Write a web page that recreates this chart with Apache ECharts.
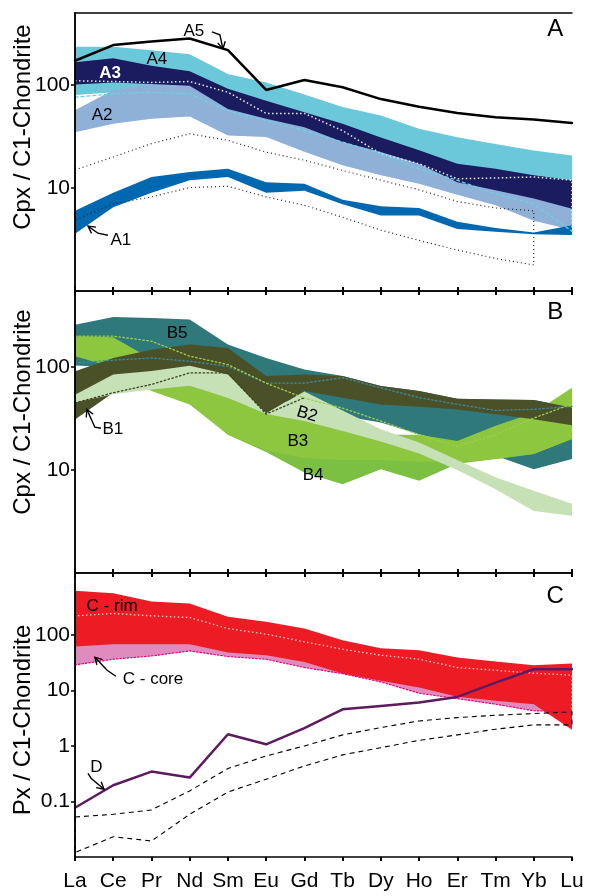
<!DOCTYPE html>
<html><head><meta charset="utf-8">
<script src="https://cdn.jsdelivr.net/npm/echarts@6/dist/echarts.min.js"></script>
<style>html,body{margin:0;padding:0;background:#fff}#c{width:589px;height:896px}</style>
</head><body><div id="c"></div>
<script>
const cats = ['La','Ce','Pr','Nd','Sm','Eu','Gd','Tb','Dy','Ho','Er','Tm','Yb','Lu'];

// ---------- Panel A ----------
const a5Line  = [172, 244, 265, 283, 218, 89.5, 112, 95, 73, 61.6, 53.6, 48.7, 46.2, 42.8];
const a4Hi    = [235, 235, 218, 199, 128, 106, 81, 61, 50.5, 37.5, 31.1, 26.8, 23.1, 20.7];
const a4Lo    = [80, 85, 90, 92, 70, 55, 45, 34, 26, 20, 15, 13, 11.5, 10];
const a2Hi    = [57, 89.5, 102, 110, 75, 60, 48, 35, 27, 20, 14, 12, 10, 8];
const a2Lo    = [34.8, 42, 47, 49.4, 32.4, 31.2, 22.5, 16.6, 13.3, 11, 8.6, 6.8, 4.8, 3.9];
const a3Hi    = [166, 182, 154, 136, 92, 70.5, 54.4, 42, 31, 23.2, 17.2, 15.4, 13.3, 11.9];
const a3Lo    = [101, 106, 102, 98.5, 58.6, 46.9, 38.9, 27.9, 22.3, 17.2, 11.4, 9.5, 7.9, 6.3];
const a1Hi    = [6.0, 9.0, 12.8, 14.3, 15.4, 11.4, 11.0, 7.7, 6.65, 6.4, 4.7, 4.1, 3.7, 4.35];
const a1Lo    = [3.6, 6.5, 9.0, 11.9, 12.8, 9.0, 9.4, 6.95, 5.4, 5.4, 4.0, 3.75, 3.55, 3.5];
const a1EnvHi = [15, 20, 27, 33.6, 29, 22.3, 18.6, 14.8, 11.9, 9.6, 7.4, 6.4, 6.0, null];
const a1EnvLo = [4.9, 7.0, 8.2, 10.1, 10.4, 8.2, 6.8, 5.2, 3.9, 3.1, 2.5, 2.07, 1.79, null];
const a3Mean  = [110, 108, 106, 108, 85, 53, 53, 36, 21.5, 17.2, 12.3, 12.5, 12.8, 11.9];
const a2Mean  = [76, 82, 85, 82, 56, 45, 36, 27.9, 21.5, 15.4, 11.9, 8.8, 7.0, 3.8];

// ---------- Panel B ----------
const b5Hi = [259, 308, 300, 290, 166, 123, 95, 82, 65.5, 58.6, 49.3, 48.6, 48, 40.5];
const b5Lo = [104, 100, 100, 95, 80, 60, 37, 33.6, 29, 22.3, 17.8, 13.8, 10.2, 12.8];
const b4Hi = [150, 150, 90, 60, 40, 30, 25, 20, 18, 17, 16, 20, 28, 50];
const b4Lo = [135, 110, 65, 47, 22, 15, 9.5, 7.3, 10.2, 7.9, 11.5, 12.8, 14.3, 20];
const b3Hi = [200, 195, 120, 68, 50.5, 37.5, 31, 27, 22, 22, 19.2, 26.9, 36, 63];
const b3Lo = [128, 100, 58.6, 43.5, 22, 15.5, 13, 12.5, 12.5, 12, 11.9, 12.8, 14.3, 20];
const b1Hi = [91.5, 123, 148, 166, 154, 82, 85, 82, 65.5, 58.6, 49.3, 48.6, 48, 40.5];
const b1Lo = [31, 56.5, 70, 95, 80, 35.5, 58.6, 50.6, 43.5, 41.3, 38.9, 34.8, 31.2, 27.2];
const b2Hi = [54, 85, 92, 103, 85, 35.5, 58, 38, 25, 18.5, 12.5, 8.5, 6.3, 4.7];
const b2Lo = [45.5, 54.5, 60.8, 66, 50.5, 35, 30, 24, 19, 14.5, 10, 6.5, 4.0, 3.6];
const b5Mean = [110, 117, 123, 114, 102, 70, 70, 79, 63, 50.6, 43.6, 38, 39, 41.5];
const b1Mean = [45, 56.5, 68, 88, 88, 35, 50.5, null, null, null, null, null, null, null];
const b3Mean = [200, 200, 179, 128, 106, 70, 50, 40, 30, 22, 17, 22, 32, 44];

// ---------- Panel C ----------
const cRimHi   = [621, 563, 399, 367, 211, 172, 130, 80, 57.5, 53, 39, 33, 28.4, 30.5];
const cRimLo   = [61.6, 68, 68, 68, 48, 43, 32.6, 20.1, 14.9, 11.3, 7.65, 6.5, 5.65, 1.95];
const cCoreHi  = [150, 150, 120, 120, 90, 80, 60, 40, 30, 25, 18, 15, 12, 10];
const cCoreLo  = [28.8, 36.4, 41.7, 51.4, 40.7, 36.4, 25.8, 20, 14.2, 8.9, 7.1, 5.65, 4.3, 4.1];
const cRimMean = [220, 243, 220, 205, 130, 103, 75, 55, 43, 36.5, 25.8, 23, 20.4, 18.8];
const dLine    = [0.077, 0.196, 0.345, 0.269, 1.62, 1.07, 2.1, 4.57, 5.26, 6.04, 7.64, 13.8, 24, 24];
const dEnvHi   = [0.0526, 0.0587, 0.0703, 0.155, 0.391, 0.66, 1.0, 1.58, 2.14, 2.82, 3.24, 3.57, 3.83, 4.1];
const dEnvLo   = [0.012, 0.0232, 0.0194, 0.0587, 0.148, 0.251, 0.436, 0.69, 0.93, 1.26, 1.58, 2.0, 2.39, 2.39];

// tick labels
const ticksAB = [10, 100];
const ticksC  = [0.1, 1, 10, 100];

// annotations [text, xIndex, value]
const labA = [['A5', 3.11, 335], ['A4', 2.14, 176], ['A3', 0.92, 131], ['A2', 0.71, 50.5], ['A1', 1.2, 3.1]];
const labB = [['B5', 2.67, 212], ['B2', 6.07, 34.8], ['B3', 5.83, 19.1], ['B4', 6.23, 8.95], ['B1', 0.99, 24.9]];
const labC = [['C - rim', 0.97, 329], ['C - core', 2.04, 15.9], ['D', 0.56, 0.405]];
const arrowA5 = [[3.58, 328], [3.79, 307], [3.87, 224]];
const arrowA1 = [[0.86, 3.48], [0.60, 3.64], [0.34, 4.26]];
const arrowB1 = [[0.68, 25.5], [0.52, 26.1], [0.31, 38.9]];
const arrowCore = [[1.07, 18.0], [0.84, 23.1], [0.52, 39.6]];
const arrowD = [[0.34, 0.322], [0.42, 0.262], [0.76, 0.166]];

const FONT = '"Liberation Sans", Arial, Helvetica, sans-serif';
const AX = {A: {x: 0, y: 0}, B: {x: 3, y: 2}, C: {x: 5, y: 4}};
const pts = arr => arr.map((v, i) => [i, v]).filter(p => p[1] != null);

function band(hi, lo, color, ax) {
  return {
    type: 'custom', xAxisIndex: ax.x, yAxisIndex: ax.y, silent: true, animation: false,
    data: [[0, hi[0]]],
    renderItem(params, api) {
      const top = pts(hi).map(p => api.coord(p));
      const bot = pts(lo).map(p => api.coord(p)).reverse();
      return {type: 'polygon', shape: {points: top.concat(bot)}, style: {fill: color}};
    }
  };
}
function path(pointFn, closed, stroke, width, dash, ax) {
  return {
    type: 'custom', xAxisIndex: ax.x, yAxisIndex: ax.y, silent: true, animation: false,
    data: [[0, 1]],
    renderItem(params, api) {
      const p = pointFn().map(q => api.coord(q));
      return {type: closed ? 'polygon' : 'polyline', shape: {points: p},
        style: {fill: 'none', stroke, lineWidth: width, lineDash: dash}};
    }
  };
}
function line(arr, color, width, type, ax) {
  return {type: 'line', xAxisIndex: ax.x, yAxisIndex: ax.y, data: pts(arr), symbol: 'none',
    silent: true, animation: false, lineStyle: {color, width, type, cap: 'round'}};
}
const envelope = (hi, lo) => () => pts(hi).concat(pts(lo).reverse());

const grids = [
  {left: 75, right: 17, top: 13, height: 278, outerBoundsMode: 'none', containLabel: false},
  {left: 75, right: 17, top: 291, height: 282, outerBoundsMode: 'none', containLabel: false},
  {left: 75, right: 17, top: 573, height: 284, outerBoundsMode: 'none', containLabel: false}
];
function xAx(grid, pos, ticks, labels) {
  return {type: 'value', gridIndex: grid, position: pos, min: 0, max: 13, interval: 1, z: 10,
    splitLine: {show: false},
    axisLine: {show: true, onZero: false, lineStyle: {color: '#000', width: 1.5}},
    axisTick: {show: ticks, length: 4, lineStyle: {color: '#000', width: 2}},
    axisLabel: {show: labels, formatter: v => cats[v] || '', color: '#000', fontSize: 21, fontFamily: FONT, margin: 14}};
}
function yAx(grid, pos, min, max, ticks, name, pad) {
  const left = pos === 'left';
  return {type: 'log', logBase: 10, gridIndex: grid, position: pos, min, max, z: 10,
    splitLine: {show: false},
    axisLine: {show: true, lineStyle: {color: '#000', width: 1.5}},
    axisTick: {show: left, length: 4, customValues: ticks, lineStyle: {color: '#000', width: 1.5}},
    axisLabel: {show: left, customValues: ticks, formatter: v => ticks.some(t => Math.abs(t - v) < 1e-9 * Math.max(1, t)) ? String(v) : '',
      color: '#000', fontSize: 21, fontFamily: FONT, margin: 5},
    name: left ? name : '', nameLocation: 'middle', nameGap: 40, nameMoveOverlap: false,
    nameTextStyle: {color: '#000', fontSize: 24, fontFamily: FONT, padding: pad}};
}

const chart = echarts.init(document.getElementById('c'));
chart.setOption({
  animation: false,
  grid: grids,
  xAxis: [xAx(0, 'bottom', true, false), xAx(0, 'top', false, false),
          xAx(1, 'top', true, false), xAx(1, 'bottom', true, false),
          xAx(2, 'top', true, false), xAx(2, 'bottom', true, true)],
  yAxis: [yAx(0, 'left', 1, 500, ticksAB, 'Cpx / C1-Chondrite', [0, 0, 0, 50]), yAx(0, 'right', 1, 500, ticksAB),
          yAx(1, 'left', 1, 550, ticksAB, 'Cpx / C1-Chondrite', [0, 0, 0, 40]), yAx(1, 'right', 1, 550, ticksAB),
          yAx(2, 'left', 0.01, 1300, ticksC, 'Px / C1-Chondrite', [0, 10, 0, 0]), yAx(2, 'right', 0.01, 1300, ticksC)],
  series: [
    // A
    band(a4Hi, a4Lo, '#6bc8db', AX.A),
    band(a2Hi, a2Lo, '#8fb1d7', AX.A),
    band(a3Hi, a3Lo, '#1b1b5f', AX.A),
    band(a1Hi, a1Lo, '#0068b0', AX.A),
    path(envelope(a1EnvHi, a1EnvLo), true, '#222', 1.2, [1, 3], AX.A),
    line(a2Mean, '#6bd0e6', 1.3, [3, 3], AX.A),
    path(() => pts(a3Mean).concat([[13, a2Mean[13]]]), false, '#e8eef8', 1.5, [1.5, 2.5], AX.A),
    line(a5Line, '#000', 2.5, 'solid', AX.A),
    // B
    band(b5Hi, b5Lo, '#2f797b', AX.B),
    band(b4Hi, b4Lo, '#7bbf43', AX.B),
    band(b3Hi, b3Lo, '#8dc63f', AX.B),
    band(b1Hi, b1Lo, '#4a5128', AX.B),
    band(b2Hi, b2Lo, '#c6e1b6', AX.B),
    line(b5Mean, '#3a8c9e', 1.3, [1.5, 2.5], AX.B),
    line(b3Mean, '#9fd04a', 1.3, [1.5, 2.5], AX.B),
    line(b1Mean, '#3b4124', 1.3, [1.5, 2.5], AX.B),
    // C
    band(cCoreHi, cCoreLo, '#e08bbd', AX.C),
    band(cRimHi, cRimLo, '#ed1c24', AX.C),
    path(() => [[0, cCoreLo[0]]].concat(pts(cRimMean), [[13, cCoreLo[13]]]), false, '#fbd3d3', 1.3, [1.5, 2.5], AX.C),
    line(cCoreLo, '#e6007e', 1.2, [1.5, 2], AX.C),
    path(envelope(dEnvHi, dEnvLo), true, '#000', 1.1, [5, 4], AX.C),
    line(dLine, '#5e1a5e', 2.5, 'solid', AX.C)
  ]
});

// annotations positioned in data space
function px(ax, p) { return chart.convertToPixel({xAxisIndex: ax.x, yAxisIndex: ax.y}, p); }
const g = [];
function addLabels(list, ax, extra) {
  list.forEach(([t, x, v]) => {
    const [X, Y] = px(ax, [x, v]);
    const s = Object.assign({text: t, fill: '#000', fontSize: 17, fontFamily: FONT, align: 'center', verticalAlign: 'middle'}, (extra && extra[t]) || {});
    const el = {type: 'text', x: X, y: Y, z: 100, style: s};
    if (extra && extra[t] && extra[t].rot) el.rotation = extra[t].rot;
    g.push(el);
  });
}
function addArrow(list, ax) {
  const p = list.map(q => px(ax, q));
  g.push({type: 'polyline', z: 100, shape: {points: p}, style: {stroke: '#000', lineWidth: 1.4, fill: 'none'}});
  const tip = p[p.length - 1], prev = p[p.length - 2];
  const a = Math.atan2(tip[1] - prev[1], tip[0] - prev[0]);
  const L = 8, w = 0.5;
  const arm = s => [tip[0] - L * Math.cos(a + s * w), tip[1] - L * Math.sin(a + s * w)];
  g.push({type: 'polyline', z: 100, shape: {points: [arm(1), tip, arm(-1)]}, style: {stroke: '#000', lineWidth: 1.4, fill: 'none'}});
}
addLabels(labA, AX.A, {'A3': {fill: '#fff', fontWeight: 'bold'}});
addLabels(labB, AX.B, {'B2': {rot: -0.3}});
addLabels(labC, AX.C);
addLabels([['A', 12.56, 343]], AX.A, {'A': {fontSize: 24}});
addLabels([['B', 12.56, 339]], AX.B, {'B': {fontSize: 24}});
addLabels([['C', 12.56, 498]], AX.C, {'C': {fontSize: 24}});
addArrow(arrowA5, AX.A);
addArrow(arrowA1, AX.A);
addArrow(arrowB1, AX.B);
addArrow(arrowCore, AX.C);
addArrow(arrowD, AX.C);
chart.setOption({graphic: g});
</script>
</body></html>
